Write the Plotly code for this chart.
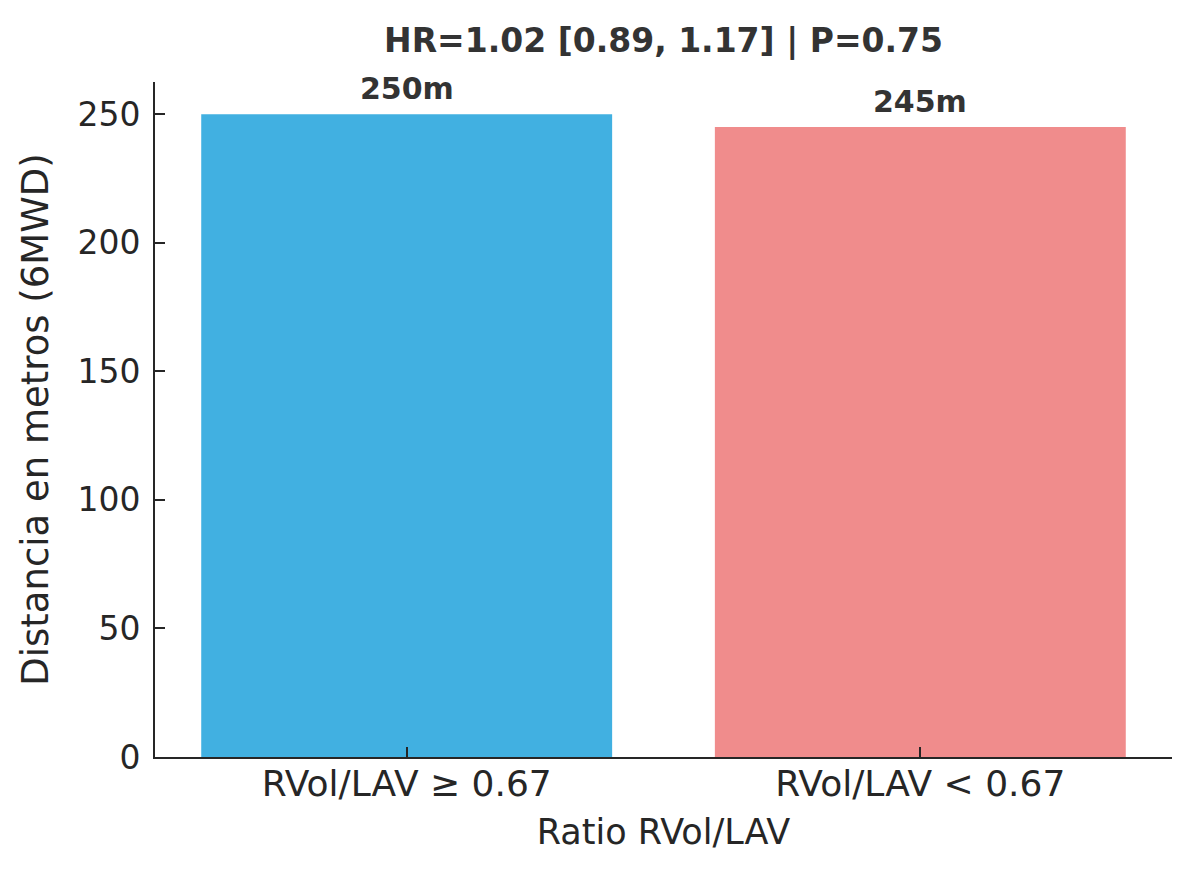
import plotly.graph_objects as go

categories = ["RVol/LAV \u2265 0.67", "RVol/LAV < 0.67"]
values = [250, 245]
labels = ["250m", "245m"]
colors = ["#41B0E1", "#F08C8C"]
yticks = [0, 50, 100, 150, 200, 250]

FONT = "DejaVu Sans"
DARK = "#262626"

fig = go.Figure()
fig.add_trace(go.Bar(
    x=[0, 1], y=values, width=0.8,
    marker=dict(color=colors, line=dict(width=0)),
    hoverinfo="skip", showlegend=False,
))

for i, (v, lab) in enumerate(zip(values, labels)):
    fig.add_annotation(
        x=i, y=v, text="<b>%s</b>" % lab, showarrow=False,
        yanchor="bottom", yshift=6,
        font=dict(family=FONT, size=30, color="#333333"),
    )

fig.update_layout(
    width=1200, height=879,
    paper_bgcolor="white", plot_bgcolor="white",
    margin=dict(l=155, r=28, t=82, b=122),
    font=dict(family=FONT, size=35, color=DARK),
    title=dict(
        text="<b>HR=1.02 [0.89, 1.17] | P=0.75</b>",
        x=0.5, xanchor="center", xref="paper",
        y=1 - 40 / 879, yanchor="middle",
        font=dict(family=FONT, size=33, color="#333333"),
    ),
    xaxis=dict(
        range=[-0.49, 1.49],
        tickmode="array", tickvals=[0, 1], ticktext=categories,
        showgrid=False, zeroline=False,
        showline=True, linecolor=DARK, linewidth=2,
        ticks="inside", ticklen=10, tickwidth=2, tickcolor=DARK,
        ticklabelstandoff=-6,
        tickfont=dict(family=FONT, size=36, color=DARK),
        title=dict(text="Ratio RVol/LAV", standoff=16,
                   font=dict(family=FONT, size=35, color=DARK)),
    ),
    yaxis=dict(
        range=[0, 262.5],
        tickmode="array", tickvals=yticks,
        showgrid=False, zeroline=False,
        showline=True, linecolor=DARK, linewidth=2,
        ticks="inside", ticklen=10, tickwidth=2, tickcolor=DARK,
        ticklabelstandoff=6,
        tickfont=dict(family=FONT, size=33, color=DARK),
        title=dict(text="Distancia en metros (6MWD)", standoff=17,
                   font=dict(family=FONT, size=37, color=DARK)),
    ),
)

fig.write_html("out.html")
